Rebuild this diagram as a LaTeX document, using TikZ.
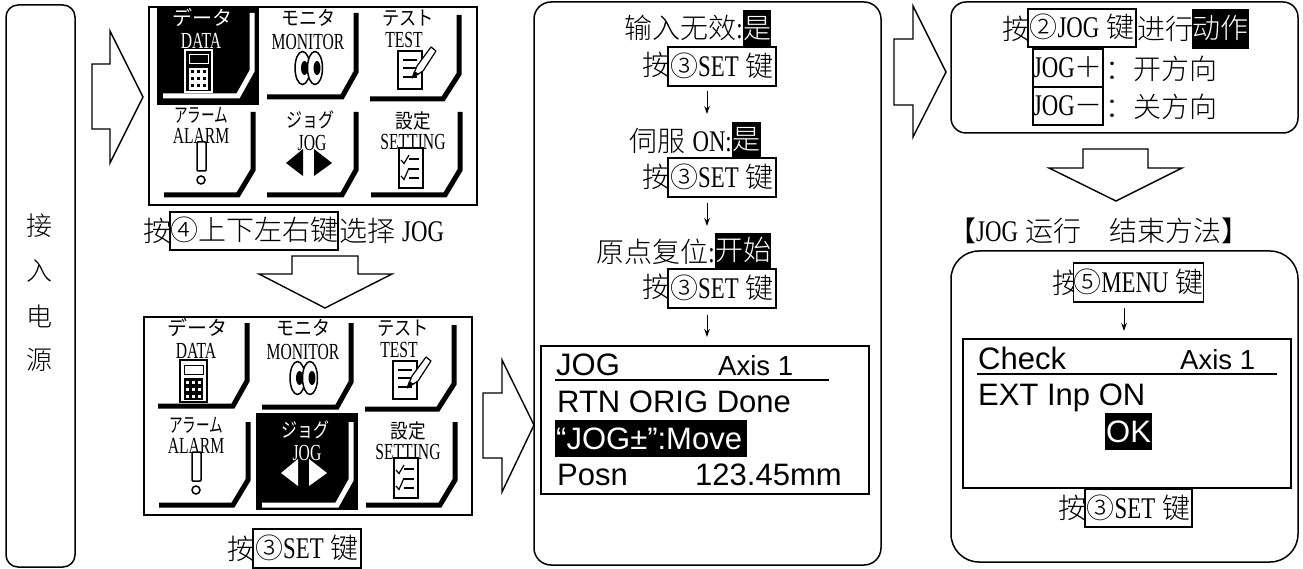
\documentclass[tikz,border=0pt]{standalone}
\usepackage{graphicx}
\usepackage{fontspec}
\usetikzlibrary{arrows.meta}
\setmainfont{Liberation Sans}
\newfontfamily\cjk{Noto Sans CJK SC Light}
\newfontfamily\jpf{Noto Sans CJK JP}
\newfontfamily\mnf[FakeStretch=0.76]{Liberation Serif}
\newfontfamily\mnsf[FakeStretch=0.68]{Liberation Serif}
\newcommand\mn[1]{{\fontsize{30}{30}\selectfont\mnf #1}}
\newcommand\hsp{\hspace{7pt}}
\newcommand\sx[2]{\scalebox{#1}[1]{#2}}
\def\whitec{white}
\newcommand\ifwhite[2]{\def\tmpa{#1}\ifx\tmpa\whitec #2\fi}
\tikzset{
  cn/.style={inner sep=0pt,anchor=base west,font=\fontsize{28}{30}\selectfont\cjk},
  cne/.style={cn,anchor=base east},
  keybox/.style={draw=black,line width=1.6pt,inner sep=0pt,align=center,text height=24pt,text depth=4pt,
     font=\fontsize{28}{30}\selectfont\cjk,fill=white},
  hl/.style={fill=black,text=white,inner sep=0pt,text height=24pt,text depth=4pt,font=\fontsize{28}{30}\selectfont\cjk},
  lcdbig/.style={inner sep=0pt,anchor=base west,font=\fontsize{31}{33}\selectfont},
  lcdsm/.style={inner sep=0pt,anchor=base west,font=\fontsize{27.5}{30}\selectfont},
  jp/.style={inner sep=0pt,font=\fontsize{20}{21}\selectfont\jpf},
  lt/.style={inner sep=0pt,font=\fontsize{23}{24}\selectfont\mnsf},
  ctn/.style={draw=black,line width=1.5pt},
  lcdbox/.style={draw=black,line width=2pt},
  blockarrow/.style={draw=black,line width=1.4pt,miter limit=20,fill=white},
  smallarrow/.style={draw=black,line width=1pt,-{Stealth[length=8pt,width=5.5pt]}},
  lshape/.style={line width=5pt,line join=miter},
}
% L-shaped frame: right x, top y, bottom y, left x, inset
\newcommand\Lshape[6]{\draw[lshape,#6] (#1,#2) -- (#1,#3-25) -- (#1-#5,#3) -- (#4,#3);}
% panel: shift, prefix, fg/bg for data, fg/bg for jog
\newcommand\panelfig[6]{%
\begin{scope}[shift={(#1)},name prefix=#2-]
  \draw[black,line width=2pt] (148.5,7) rectangle (477,205);
  % DATA
  \ifwhite{#3}{\fill[black] (157,8) rectangle (259,105);}
  \Lshape{252}{13}{96}{163}{14}{#3}
  \node[jp,text=#3] (datajp) at (202,18) {データ};
  \node[lt,text=#3] (datalt) at (201,41) {DATA};
  \draw[#3,line width=1.5pt] (185,50) rectangle (212,92);
  \draw[#3,line width=1pt] (189,55) rectangle (208,64);
  \fill[#3] (189,68) rectangle (208,90);
  \foreach \xx in {192.5,198.5,204.5}\foreach \yy in {72,79,86}{\fill[#4] (\xx-1.5,\yy-1.5) rectangle (\xx+1.5,\yy+1.5);}
  % MONITOR
  \Lshape{356}{13}{97}{267}{14}{black}
  \node[jp] (monjp) at (308,18) {\sx{.9}{モニタ}};
  \node[lt] (monlt) at (308,42) {MONITOR};
  \draw[black,line width=1.5pt,fill=white] (302.5,68) ellipse [x radius=7.5,y radius=16.5];
  \draw[black,line width=1.5pt,fill=white] (315,68) ellipse [x radius=7.5,y radius=16.5];
  \fill[black] (304.5,68) ellipse [x radius=3.5,y radius=7];
  \fill[black] (317,68) ellipse [x radius=3.5,y radius=7];
  % TEST
  \Lshape{459}{15}{99}{370}{16}{black}
  \node[jp] (testjp) at (408,18) {\sx{.86}{テスト}};
  \node[lt] (testlt) at (404,40) {TEST};
  \draw[black,line width=1.2pt] (398,51) rectangle (422,89);
  \foreach \yy in {60,68,77}{\draw[black,line width=1.2pt] (403,\yy) -- (417,\yy);}
  \draw[black,line width=1.2pt,fill=white,line join=round] (412,78) -- (417,66) -- (431,47) -- (436,51) -- (423,71) -- cycle;
  \fill[black] (412,78) -- (414,71) -- (419,74) -- cycle;
  % ALARM
  \Lshape{253}{112}{195}{164}{15}{black}
  \node[jp] (alajp) at (201,115) {\sx{.68}{アラーム}};
  \node[lt] (alalt) at (201,136) {ALARM};
  \draw[black,line width=1.5pt,fill=white,rounded corners=1pt] (197,142) rectangle (206,171);
  \draw[black,line width=1.5pt] (201,180) circle [radius=4];
  % JOG
  \ifwhite{#5}{\fill[black] (261,103) rectangle (363,200);}
  \Lshape{356}{112}{195}{267}{14}{#5}
  \node[jp,text=#5] (jogjp) at (310,120) {\sx{.8}{ジョグ}};
  \node[lt,text=#5] (joglt) at (312,143) {JOG};
  \fill[#5] (286,163) -- (303,149) -- (303,176) -- cycle;
  \fill[#5] (332,163) -- (314,149) -- (314,176) -- cycle;
  % SETTING
  \Lshape{460}{112}{195}{371}{15}{black}
  \node[jp] (setjp) at (413,121) {\sx{.88}{設定}};
  \node[lt] (setlt) at (413,142) {SETTING};
  \draw[black,line width=1.4pt] (399,148) rectangle (423,188);
  \draw[black,line width=1.2pt] (401,160) -- (404,163.5) -- (409,155);
  \draw[black,line width=1.2pt] (401,176) -- (404,179.5) -- (409,168);
  \foreach \yy in {159,169,178}{\draw[black,line width=1.2pt] (409,\yy) -- (419,\yy);}
\end{scope}}
\begin{document}
\begin{tikzpicture}[x=1pt,y=-1pt]
\useasboundingbox (0,0) rectangle (1303,569);
\fill[white] (0,0) rectangle (1303,569);
% left box
\draw[ctn,rounded corners=12pt] (6,5) rectangle (75,567);
\node[inner sep=0pt,font=\fontsize{26}{28}\selectfont\cjk] (t1) at (40,226) {接};
\node[inner sep=0pt,font=\fontsize{26}{28}\selectfont\cjk] (t2) at (40,271) {入};
\node[inner sep=0pt,font=\fontsize{26}{28}\selectfont\cjk] (t3) at (40,316) {电};
\node[inner sep=0pt,font=\fontsize{26}{28}\selectfont\cjk] (t4) at (40,360) {源};
% block arrows
\draw[blockarrow] (92,64) -- (110,64) -- (110,31) -- (143,97) -- (110,163) -- (110,129) -- (92,129) -- cycle;
\draw[blockarrow] (483,393) -- (502,393) -- (502,360) -- (534,425) -- (502,492) -- (502,458) -- (483,458) -- cycle;
\draw[blockarrow] (894,39) -- (913,39) -- (913,6) -- (946,72) -- (913,137) -- (913,105) -- (894,105) -- cycle;
\draw[blockarrow] (292,256) -- (358,256) -- (358,274) -- (392,274) -- (325,308) -- (259,274) -- (292,274) -- cycle;
\draw[blockarrow] (1083,149) -- (1148,149) -- (1148,168) -- (1182,168) -- (1116,201) -- (1049,168) -- (1083,168) -- cycle;
% panels
\panelfig{0,0}{pa}{white}{black}{black}{white}
\panelfig{-5,310}{pb}{black}{white}{white}{black}
% captions
\node[cn] (c1a) at (143,242) {按};
\node[keybox,minimum width=168pt,minimum height=38pt] (c1k) at (254,231) {④上下左右键};
\node[cn] (c1b) at (339,242) {选择\hsp\mn{JOG}};
\node[cn] (c2a) at (227,559) {按};
\node[keybox,minimum width=108pt,minimum height=39pt] (c2k) at (307,548.5) {③\mn{SET}\hsp 键};
% middle box
\draw[ctn,rounded corners=17pt] (534,2) rectangle (881,565);
\node[cne] (m1) at (743,39) {输入无效\mn{:}};
\node[hl,minimum width=28pt,minimum height=37pt] (m1h) at (757,28.5) {是};
\node[cn] (m1a) at (642,76) {按};
\node[keybox,minimum width=108pt,minimum height=39pt] (m1k) at (722,66.5) {③\mn{SET}\hsp 键};
\coordinate (a1s) at (707,91); \coordinate (a1e) at (707,114);
\draw[smallarrow] (a1s) -- (a1e);
\node[cne] (m2) at (732,152) {伺服\hsp\mn{ON:}};
\node[hl,minimum width=29pt,minimum height=36pt] (m2h) at (746.5,140) {是};
\node[cn] (m2a) at (642,188) {按};
\node[keybox,minimum width=108pt,minimum height=39pt] (m2k) at (722,177.5) {③\mn{SET}\hsp 键};
\coordinate (a2s) at (707,203); \coordinate (a2e) at (707,226);
\draw[smallarrow] (a2s) -- (a2e);
\node[cne] (m3) at (715,262) {原点复位\mn{:}};
\node[hl,minimum width=56pt,minimum height=36pt] (m3h) at (743,251) {开始};
\node[cn] (m3a) at (642,298) {按};
\node[keybox,minimum width=108pt,minimum height=39pt] (m3k) at (722,288.5) {③\mn{SET}\hsp 键};
\coordinate (a3s) at (707,315); \coordinate (a3e) at (707,337);
\draw[smallarrow] (a3s) -- (a3e);
% LCD 1
\draw[lcdbox] (541,346) rectangle (869,494);
\node[lcdbig] (l1) at (556,375) {JOG};
\node[lcdsm] (l2) at (718,375) {Axis 1};
\draw[black,line width=2.5pt] (555,380) -- (829,380);
\node[lcdbig] (l3) at (557,412) {RTN ORIG Done};
\fill[black] (555,420) rectangle (747,457);
\node[lcdbig,text=white] (l4) at (556,449) {“JOG±”:Move};
\node[lcdbig] (l5) at (557,485) {Posn};
\node[lcdbig] (l6) at (695,485) {123.45mm};
% top-right box
\draw[ctn,rounded corners=15pt] (951,2) rectangle (1298,133);
\node[cn] (r1a) at (1002,40) {按};
\node[keybox,minimum width=108pt,minimum height=38pt] (r1k) at (1082,28) {②\mn{JOG}\hsp 键};
\node[cn] (r1b) at (1137,40) {进行};
\node[hl,minimum width=57pt,minimum height=40pt] (r1h) at (1220.5,29) {动作};
\node[keybox,minimum width=70pt,minimum height=38pt] (r2k) at (1068,68) {\mn{JOG}＋};
\node[keybox,minimum width=70pt,minimum height=38pt] (r3k) at (1068,106) {\mn{JOG}－};
\node[cn] (r2) at (1105,80) {：开方向};
\node[cn] (r3) at (1105,118) {：关方向};
% heading
\node[cn] (h) at (948,242) {【\mn{JOG}\hsp 运行　结束方法】};
% bottom-right box
\draw[ctn,rounded corners=28pt] (951,251) rectangle (1298,562);
\node[cn] (b1a) at (1052,293) {按};
\node[keybox,minimum width=121pt,minimum height=39pt] (b1k) at (1138.5,282.5) {⑤\mn{MENU}\hsp 键};
\coordinate (a4s) at (1124,308); \coordinate (a4e) at (1124,331);
\draw[smallarrow] (a4s) -- (a4e);
\draw[lcdbox] (963,339) rectangle (1291,488);
\node[lcdbig] (b2) at (978,369) {Check};
\node[lcdsm] (b3) at (1180,369) {Axis 1};
\draw[black,line width=2.5pt] (977,374) -- (1277,374);
\node[lcdbig] (b4) at (978,405) {EXT Inp ON};
\fill[black] (1105,413) rectangle (1152,450);
\node[lcdbig,text=white] (b5) at (1106,442) {OK};
\node[cn] (b6a) at (1058,518) {按};
\node[keybox,minimum width=107pt,minimum height=38pt] (b6k) at (1138.5,508) {③\mn{SET}\hsp 键};
\end{tikzpicture}
\end{document}
